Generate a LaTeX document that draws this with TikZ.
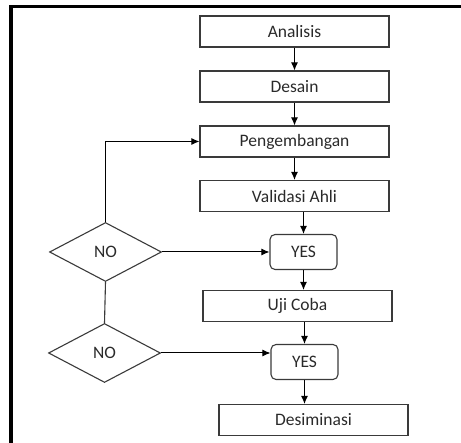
\documentclass[tikz,border=0pt]{standalone}
\usepackage{fontspec}
\setmainfont{Carlito}
\usepackage{xcolor}
\definecolor{linegray}{HTML}{3A3A3A}
\definecolor{textgray}{HTML}{2A2A2A}
\usepackage{tikz}
\usetikzlibrary{shapes.geometric,arrows.meta}

\begin{document}
\begin{tikzpicture}[
    x=1pt, y=-1pt, node distance=55pt,
    every node/.append style={font=\fontsize{17.5}{20}\selectfont, text=textgray},
    stage/.style={draw=linegray, line width=1.1pt, minimum width=189pt, minimum height=31pt, inner sep=0pt},
    answer/.style={draw=linegray, line width=1.1pt, rounded corners=5pt, minimum width=67pt, minimum height=35pt, inner sep=0pt},
    decision/.style={diamond, draw=linegray, line width=1.1pt, minimum width=112pt, minimum height=59pt, inner sep=0pt},
    flow/.style={draw=black, line width=1pt, -{Latex[length=8pt,width=7pt]}},
    link/.style={draw=linegray, line width=1.1pt}
]
    \useasboundingbox (0,0) rectangle (461,443);
    \draw[line width=3.5pt, black] (461,6.75) -- (10.75,6.75) -- (10.75,443);

    \node[stage] (ANALISIS) at (294.5,31.5) {Analisis};
    \node[stage, below of=ANALISIS] (DESAIN) {Desain};
    \node[stage, below of=DESAIN] (PENGEMBANGAN) {Pengembangan};
    \node[stage, below of=PENGEMBANGAN, node distance=54.5pt] (VALIDASI) {Validasi Ahli};
    \node[answer] (YES1) at (303.5,252) {YES};
    \node[stage] (UJICOBA) at (297.5,306) {Uji Coba};
    \node[answer] (YES2) at (304.5,362) {YES};
    \node[stage] (DESIMINASI) at (313.5,420) {Desiminasi};

    \node[decision] (NO1) at (105.5,252) {NO};
    \node[decision] (NO2) at (104.5,353) {NO};

    \path[flow] (ANALISIS) -- (DESAIN);
    \path[flow] (DESAIN) -- (PENGEMBANGAN);
    \path[flow] (PENGEMBANGAN) -- (VALIDASI);
    \path[flow] (VALIDASI.south -| YES1) -- (YES1.north);
    \path[flow] (YES1.south) -- (YES1.south |- UJICOBA.north);
    \path[flow] (UJICOBA.south -| YES2) -- (YES2.north);
    \path[flow] (YES2.south) -- (YES2.south |- DESIMINASI.north);

    \path[flow] (NO1.north) |- (PENGEMBANGAN.west);
    \path[flow] (NO1.east) -- (YES1.west);
    \path[link] (NO1.south) -- (NO2.north);
    \path[flow] (NO2.east) -- (NO2.east -| YES2.west);
\end{tikzpicture}
\end{document}
